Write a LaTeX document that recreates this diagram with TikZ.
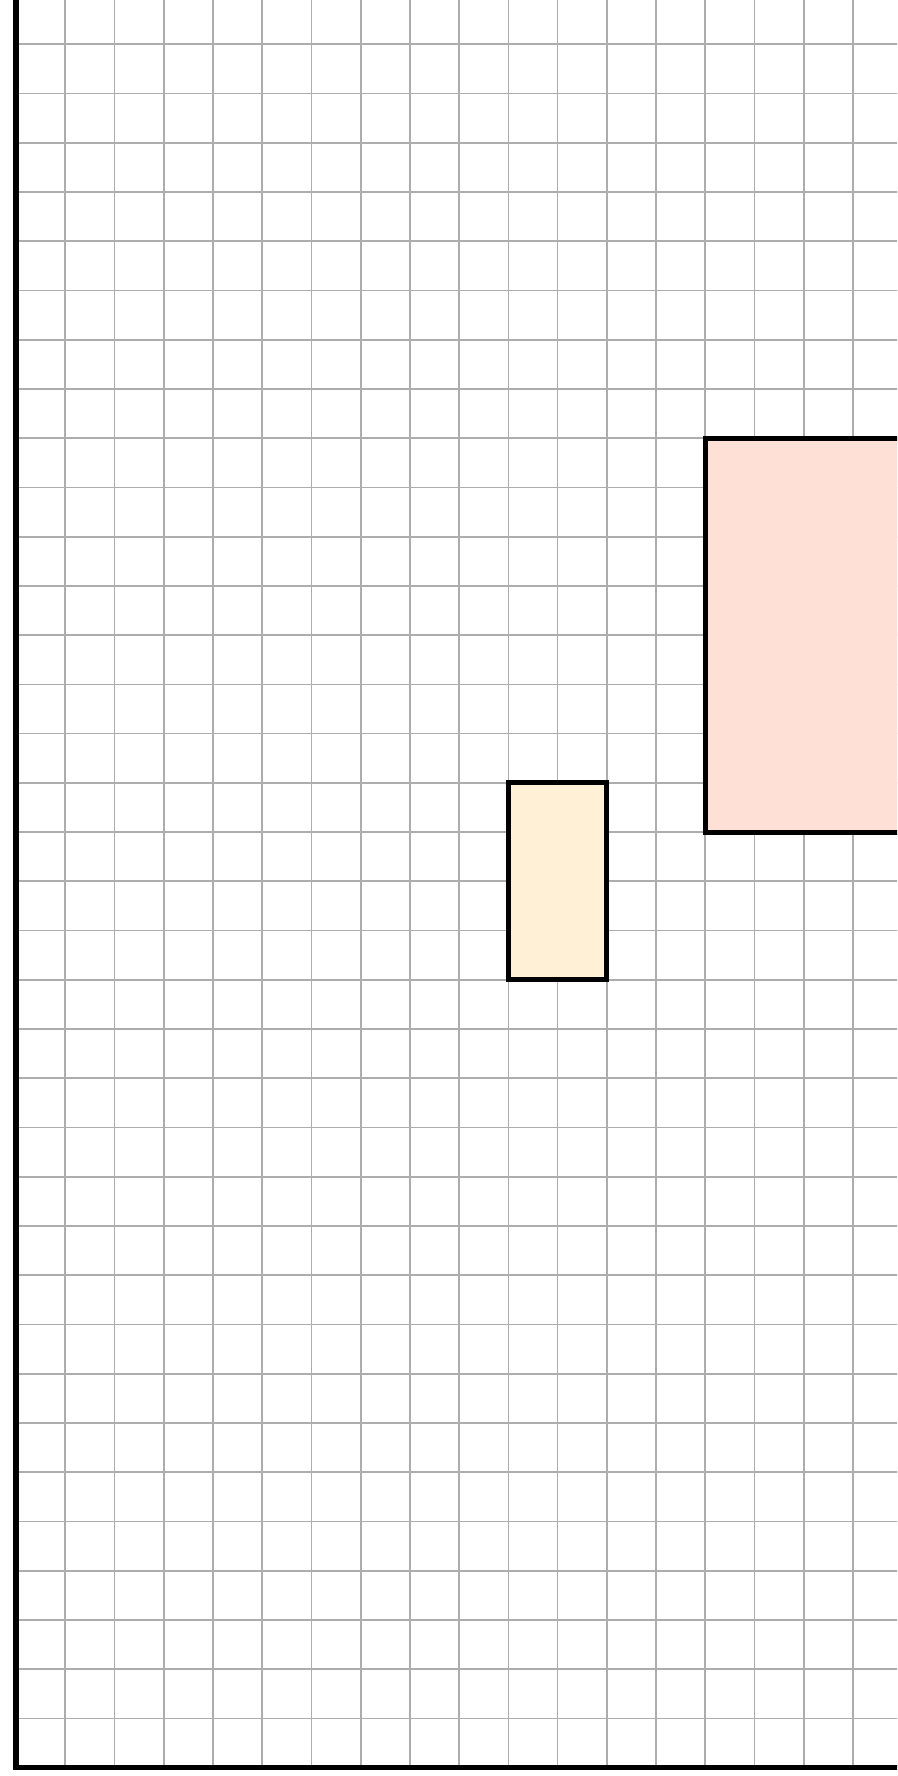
\documentclass[tikz,border=0pt]{standalone}
\definecolor{cellgrid}{HTML}{ADADAD}
\definecolor{sandfill}{HTML}{FFF0D6}
\definecolor{rosefill}{HTML}{FEE0D6}
\begin{document}
\begin{tikzpicture}
\useasboundingbox (-0.325,-0.17) rectangle (17.893,35.9);
\clip (-0.325,-0.17) rectangle (17.893,35.9);
\coordinate (O) at (0,0);
\coordinate (T) at (0,36);
\coordinate (R) at (18.5,0);
\coordinate (S1) at (10,16);
\coordinate (S2) at (12,20);
\coordinate (P1) at (14,19);
\coordinate (P2) at (19,27);

\draw[cellgrid, line width=1pt] (O) grid (18.5,36.5);
\filldraw[fill=sandfill, line width=3pt] (S1) rectangle (S2);
\filldraw[fill=rosefill, line width=3pt] (P1) rectangle (P2);
\draw[line width=3pt] (T)--(O)--(R);
\end{tikzpicture}
\end{document}
